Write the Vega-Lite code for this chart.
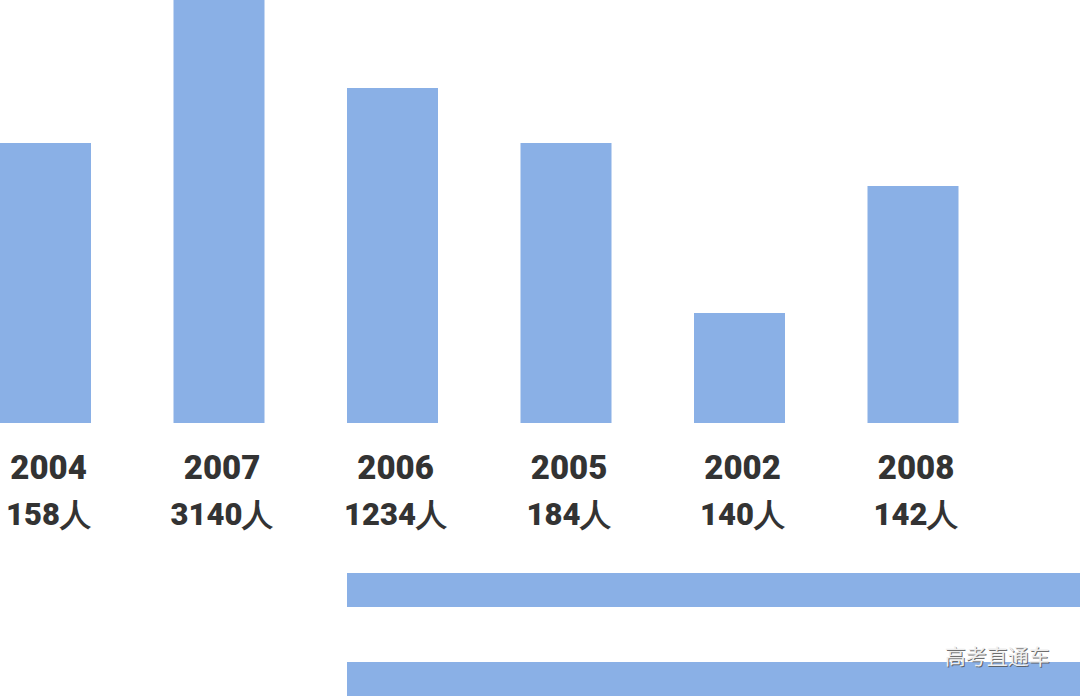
{
  "$schema": "https://vega.github.io/schema/vega-lite/v6.json",
  "width": 1080,
  "height": 697,
  "autosize": {"type": "none"},
  "padding": 0,
  "background": "#ffffff",
  "config": {"view": {"stroke": null}},
  "datasets": {
    "years": [
      {"year": "2004", "people": "158人", "bar": 280},
      {"year": "2007", "people": "3140人", "bar": 470},
      {"year": "2006", "people": "1234人", "bar": 335},
      {"year": "2005", "people": "184人", "bar": 280},
      {"year": "2002", "people": "140人", "bar": 110},
      {"year": "2008", "people": "142人", "bar": 237}
    ],
    "next": [
      {"row": "a", "value": 120, "source": "高考直通车"},
      {"row": "b", "value": 120, "source": "高考直通车"}
    ]
  },
  "layer": [
    {
      "data": {"name": "years"},
      "encoding": {
        "x": {
          "field": "year",
          "type": "nominal",
          "sort": null,
          "axis": null,
          "scale": {"type": "band", "range": [0, 958.5], "paddingInner": 0.4755, "paddingOuter": 0}
        }
      },
      "layer": [
        {
          "mark": {"type": "bar", "color": "#8AB0E6"},
          "encoding": {
            "y": {
              "field": "bar",
              "type": "quantitative",
              "axis": null,
              "scale": {"domain": [-274, 423], "range": [697, 0], "nice": false, "zero": false}
            }
          }
        },
        {
          "mark": {"type": "text", "font": "Roboto", "fontWeight": 900, "fontSize": 33, "color": "#333333", "baseline": "alphabetic", "align": "center", "dx": 3},
          "encoding": {
            "y": {"datum": -56, "type": "quantitative"},
            "text": {"field": "year"}
          }
        },
        {
          "mark": {"type": "text", "font": "Roboto", "fontWeight": 900, "fontSize": 31, "color": "#333333", "baseline": "alphabetic", "align": "center", "dx": 3},
          "encoding": {
            "y": {"datum": -102, "type": "quantitative"},
            "text": {"field": "people"}
          }
        }
      ]
    },
    {
      "data": {"name": "next"},
      "encoding": {
        "y": {
          "field": "row",
          "type": "nominal",
          "axis": null,
          "scale": {"type": "band", "range": [573, 696], "paddingInner": 0.618, "paddingOuter": 0}
        }
      },
      "layer": [
        {
          "mark": {"type": "bar", "color": "#8AB0E6"},
          "encoding": {
            "x": {
              "field": "value",
              "type": "quantitative",
              "axis": null,
              "scale": {"domain": [0, 100], "range": [347, 1080], "nice": false, "zero": true}
            }
          }
        },
        {
          "transform": [{"filter": "datum.row === 'b'"}],
          "mark": {"type": "text", "font": "Noto Sans CJK SC", "fontSize": 21, "color": "#555555", "opacity": 0.85, "baseline": "alphabetic", "align": "center", "dx": 1, "dy": -14},
          "encoding": {
            "x": {"datum": 88.7, "type": "quantitative"},
            "text": {"field": "source"}
          }
        },
        {
          "transform": [{"filter": "datum.row === 'b'"}],
          "mark": {"type": "text", "font": "Noto Sans CJK SC", "fontSize": 21, "color": "#eeeeee", "baseline": "alphabetic", "align": "center", "dy": -15},
          "encoding": {
            "x": {"datum": 88.7, "type": "quantitative"},
            "text": {"field": "source"}
          }
        }
      ]
    }
  ],
  "resolve": {"scale": {"x": "independent", "y": "independent"}}
}
